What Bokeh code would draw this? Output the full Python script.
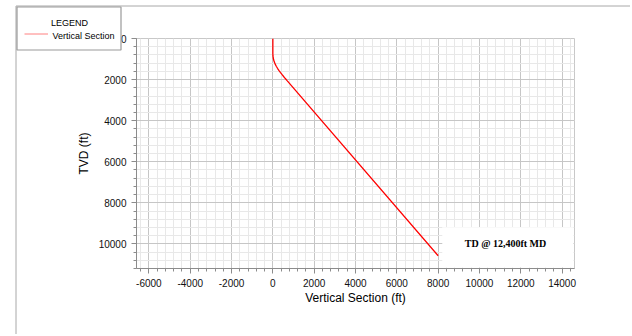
import numpy as np
from bokeh.plotting import figure
from bokeh.models import Range1d, FixedTicker, BoxAnnotation, Label
from bokeh.core.properties import value
from bokeh.embed import file_html
from bokeh.resources import INLINE

# ---- data ----
tvd = [0, 750, 850, 950, 1050, 1150, 1250, 1350, 1450, 1550, 1650, 1750, 1850, 1950, 2050, 10580]
vs = [0, 0, 5, 18, 40, 72, 114, 165, 224, 290, 362, 439, 520, 604, 689, 8000]

x_ticks = [-6000, -4000, -2000, 0, 2000, 4000, 6000, 8000, 10000, 12000, 14000]
y_ticks = [0, 2000, 4000, 6000, 8000, 10000]
x_minor = list(np.arange(-6400, 14401, 400))
y_minor = list(np.arange(0, 11201, 400))

series_name = "Vertical Section"
x_title = "Vertical Section (ft)"
y_title = "TVD (ft)"
legend_title = "LEGEND"
td_note = "TD @ 12,400ft MD"

FONT = "Liberation Sans"

# ---- layout (pixels) ----
W, H = 630, 334
FL, FT, FR, FB = 136, 38, 574, 268     # plot frame edges on the canvas
X0, X1 = -6600, 14600
Y0, Y1 = 0, 11200

p = figure(width=W, height=H, output_backend="svg", toolbar_location=None,
           x_range=Range1d(X0, X1), y_range=Range1d(Y1, Y0),
           min_border_left=FL, min_border_right=W - FR,
           min_border_top=FT, min_border_bottom=H - FB)

p.background_fill_color = "white"
p.border_fill_color = "white"
p.outline_line_color = "#c8c8c8"

xt = FixedTicker(ticks=x_ticks, minor_ticks=x_minor)
yt = FixedTicker(ticks=y_ticks, minor_ticks=y_minor)
p.xaxis.ticker = xt
p.yaxis.ticker = yt
p.xgrid.ticker = xt
p.ygrid.ticker = yt
p.xaxis.major_label_overrides = {t: str(t) for t in x_ticks}
p.yaxis.major_label_overrides = {t: str(t) for t in y_ticks}

for g in (p.xgrid, p.ygrid):
    g.grid_line_color = "#c6c6c6"
    g.minor_grid_line_color = "#e8e8e8"

for ax in (p.xaxis, p.yaxis):
    ax.axis_line_color = "#8c8c8c"
    ax.major_tick_line_color = "#8c8c8c"
    ax.minor_tick_line_color = "#8c8c8c"
    ax.major_tick_in = 0
    ax.major_tick_out = 5
    ax.minor_tick_in = 0
    ax.minor_tick_out = 3
    ax.major_label_text_font = FONT
    ax.major_label_text_font_size = "10px"
    ax.major_label_text_color = "#111111"
    ax.axis_label_text_font = FONT
    ax.axis_label_text_font_size = "12px"
    ax.axis_label_text_font_style = "normal"
    ax.axis_label_text_color = "#000000"

p.xaxis.axis_label = x_title
p.yaxis.axis_label = y_title
p.xaxis.axis_label_standoff = 1
p.yaxis.axis_label_standoff = 5

p.line(vs, tvd, line_color="#ff0000", line_width=1.3)

# TD note box
p.add_layout(BoxAnnotation(left=8200, right=14550, bottom=11150, top=9190,
                           fill_color="white", fill_alpha=1.0, line_alpha=0))
p.add_layout(Label(x=11260, y=10000, text=td_note, text_font="Liberation Serif",
                   text_font_style="bold", text_font_size="10px", text_color="#000000",
                   text_align="center", text_baseline="middle"))


# ---- decorations outside the frame (page frame + legend), drawn at overlay level ----
def dx(sx):
    return X0 + (sx - FL) / (FR - FL) * (X1 - X0)


def dy(sy):
    return Y0 + (sy - FT) / (FB - FT) * (Y1 - Y0)


# outer page frame (top and left edges)
p.line([dx(15.5), dx(15.5), dx(W + 5)], [dy(H + 5), dy(5.5), dy(5.5)],
       line_color="#a8a8a8", line_width=1, level="overlay")

# legend box
p.quad(left=[dx(16.5)], right=[dx(120.5)], top=[dy(6.5)], bottom=[dy(49.5)],
       fill_color="white", line_color="#9a9a9a", line_width=1.2, level="overlay")
p.text(x=[dx(69)], y=[dy(22.5)], text=[legend_title], text_font=value(FONT),
       text_font_size=value("9px"), text_color="#000000", text_align="center",
       text_baseline="middle", level="overlay")
p.line([dx(24), dx(47.5)], [dy(33.5), dy(33.5)], line_color="#ff8080", line_width=1,
       level="overlay")
p.text(x=[dx(52)], y=[dy(35.5)], text=[series_name], text_font=value(FONT),
       text_font_size=value("9px"), text_color="#000000", text_align="left",
       text_baseline="middle", level="overlay")

open("out.html", "w").write(file_html(p, INLINE))
